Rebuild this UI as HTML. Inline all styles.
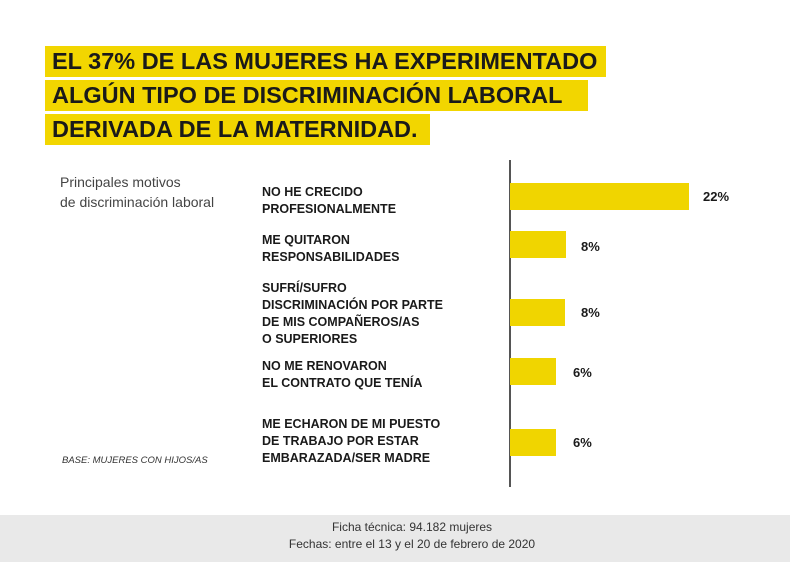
<!DOCTYPE html>
<html><head><meta charset="utf-8"><style>
body{margin:0;width:790px;height:562px;background:#fff;position:relative;overflow:hidden;font-family:"Liberation Sans",Arial,sans-serif;color:#1a1a1a}
.a{position:absolute}
.hl{position:absolute;left:45px;background:#f2d600;height:31px}
.t{position:absolute;left:52px;font-weight:bold;font-size:23.5px;line-height:31px;white-space:nowrap;letter-spacing:0px}
.c{position:absolute;left:262px;font-weight:bold;font-size:12.5px;line-height:17px;white-space:nowrap}
.bar{position:absolute;left:510px;background:#f0d500;height:27px}
.v{position:absolute;font-weight:bold;font-size:13px;line-height:16px}
</style></head><body>
<div class="hl" style="top:46px;width:561px"></div>
<div class="hl" style="top:80px;width:543px"></div>
<div class="hl" style="top:114px;width:385px"></div>
<div class="t" style="top:46px">EL 37% DE LAS MUJERES HA EXPERIMENTADO</div>
<div class="t" style="top:80px">ALGÚN TIPO DE DISCRIMINACIÓN LABORAL</div>
<div class="t" style="top:114px">DERIVADA DE LA MATERNIDAD.</div>

<div class="a" style="left:60px;top:172px;font-size:14px;line-height:20px;color:#444">Principales motivos<br>de discriminación laboral</div>
<div class="a" style="left:62px;top:455px;font-size:9.5px;font-style:italic;color:#333">BASE: MUJERES CON HIJOS/AS</div>

<div class="c" style="top:184px">NO HE CRECIDO<br>PROFESIONALMENTE</div>
<div class="c" style="top:232px">ME QUITARON<br>RESPONSABILIDADES</div>
<div class="c" style="top:280px">SUFRÍ/SUFRO<br>DISCRIMINACIÓN POR PARTE<br>DE MIS COMPAÑEROS/AS<br>O SUPERIORES</div>
<div class="c" style="top:358px">NO ME RENOVARON<br>EL CONTRATO QUE TENÍA</div>
<div class="c" style="top:416px">ME ECHARON DE MI PUESTO<br>DE TRABAJO POR ESTAR<br>EMBARAZADA/SER MADRE</div>

<div class="a" style="left:509px;top:160px;width:1.5px;height:327px;background:#555"></div>
<div class="bar" style="top:183px;width:179px"></div>
<div class="bar" style="top:231px;width:56px"></div>
<div class="bar" style="top:299px;width:55px"></div>
<div class="bar" style="top:358px;width:46px"></div>
<div class="bar" style="top:429px;width:46px"></div>
<div class="v" style="left:703px;top:189px">22%</div>
<div class="v" style="left:581px;top:239px">8%</div>
<div class="v" style="left:581px;top:305px">8%</div>
<div class="v" style="left:573px;top:365px">6%</div>
<div class="v" style="left:573px;top:435px">6%</div>

<div class="a" style="left:0;top:515px;width:790px;height:47px;background:#e9e9e9"></div>
<div class="a" style="left:0;top:519px;width:824px;text-align:center;font-size:12px;line-height:17px;color:#333">Ficha técnica: 94.182 mujeres<br>Fechas: entre el 13 y el 20 de febrero de 2020</div>
</body></html>
